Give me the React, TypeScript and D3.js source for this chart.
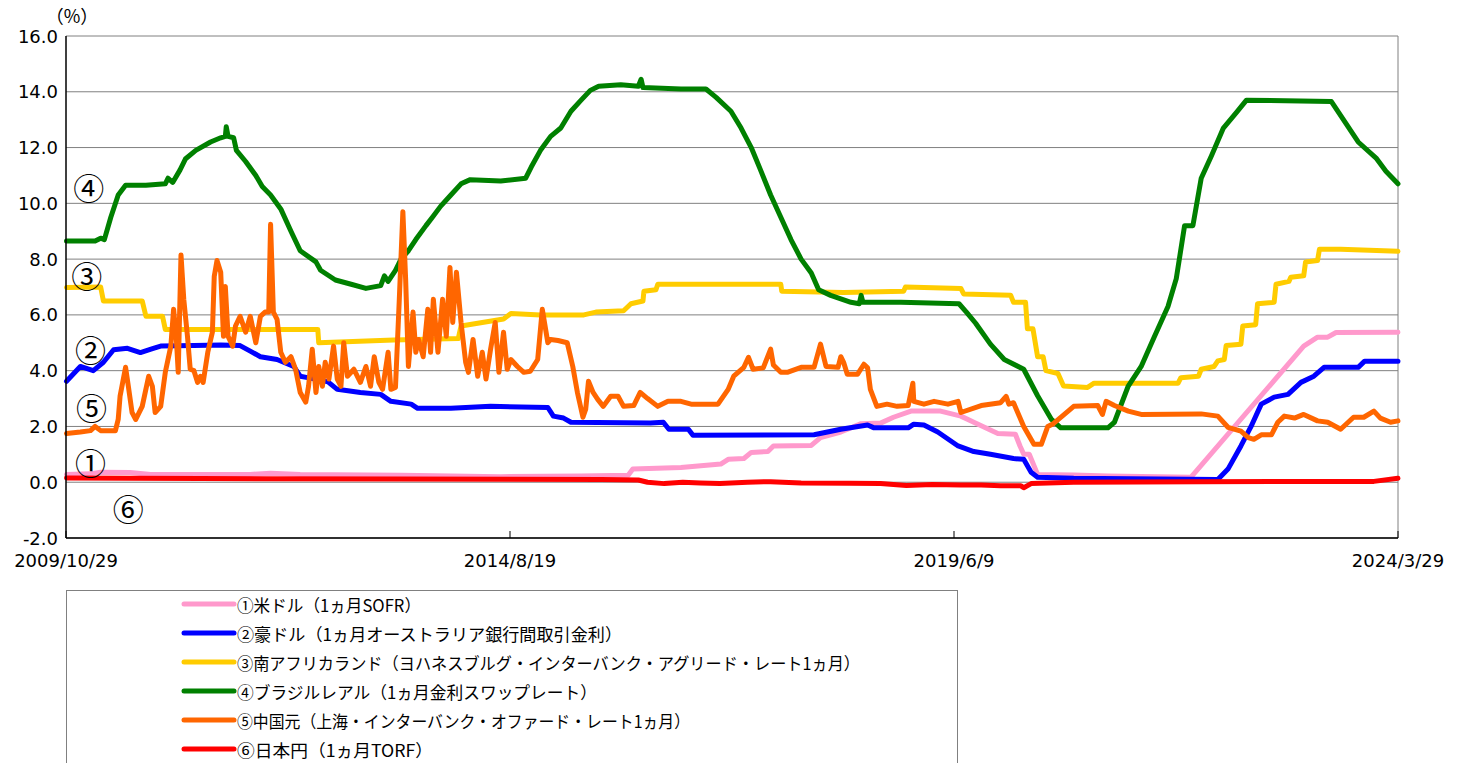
import * as d3 from 'd3';

// [decimal year, %]
const usd: [number, number][] = [
  [2009.83, 0.28], [2010.09, 0.3], [2010.2, 0.36], [2010.52, 0.35], [2010.74, 0.28], [2011.82, 0.28],
  [2012.04, 0.32], [2012.36, 0.28], [2013.45, 0.25], [2014.53, 0.2], [2015.4, 0.22], [2015.91, 0.25],
  [2015.96, 0.47], [2016.48, 0.53], [2016.91, 0.65], [2016.99, 0.82], [2017.16, 0.85], [2017.24, 1.07],
  [2017.42, 1.1], [2017.48, 1.3], [2017.89, 1.32], [2017.99, 1.6], [2018.21, 1.8], [2018.43, 2.1],
  [2018.64, 2.12], [2018.78, 2.33], [2018.97, 2.55], [2019.29, 2.55], [2019.51, 2.37], [2019.65, 2.15],
  [2019.91, 1.75], [2020.1, 1.72], [2020.15, 1.3], [2020.19, 1.0], [2020.25, 1.0], [2020.34, 0.28],
  [2020.73, 0.26], [2021.1, 0.22], [2022.0, 0.18], [2023.22, 4.88], [2023.37, 5.2], [2023.48, 5.2],
  [2023.57, 5.37], [2024.24, 5.38],
];

const aud: [number, number][] = [
  [2009.83, 3.62], [2009.98, 4.15], [2010.12, 4.0], [2010.23, 4.3], [2010.34, 4.75], [2010.49, 4.8],
  [2010.63, 4.65], [2010.77, 4.8], [2010.85, 4.88], [2011.21, 4.9], [2011.5, 4.92], [2011.71, 4.9],
  [2011.82, 4.7], [2011.93, 4.5], [2012.11, 4.4], [2012.29, 4.15], [2012.36, 3.8], [2012.44, 3.75],
  [2012.66, 3.6], [2012.76, 3.33], [2013.01, 3.22], [2013.23, 3.15], [2013.34, 2.9], [2013.56, 2.8],
  [2013.63, 2.65], [2013.99, 2.65], [2014.42, 2.72], [2015.04, 2.68], [2015.1, 2.37], [2015.21, 2.3],
  [2015.29, 2.15], [2016.15, 2.12], [2016.29, 2.15], [2016.35, 1.9], [2016.56, 1.9], [2016.61, 1.68],
  [2017.92, 1.7], [2018.21, 1.9], [2018.5, 2.05], [2018.57, 1.95], [2018.94, 1.95], [2019.0, 2.08],
  [2019.11, 2.05], [2019.26, 1.8], [2019.48, 1.3], [2019.65, 1.1], [2019.83, 1.0], [2020.08, 0.85],
  [2020.19, 0.82], [2020.27, 0.36], [2020.34, 0.18], [2020.73, 0.14], [2022.29, 0.1], [2022.4, 0.47],
  [2022.54, 1.3], [2022.65, 2.0], [2022.76, 2.8], [2022.9, 3.05], [2023.05, 3.15], [2023.19, 3.58],
  [2023.33, 3.8], [2023.44, 4.12], [2023.81, 4.12], [2023.88, 4.34], [2024.24, 4.34],
];

const zar: [number, number][] = [
  [2009.83, 6.98], [2010.2, 7.0], [2010.23, 6.5], [2010.65, 6.5], [2010.69, 5.95], [2010.87, 5.95],
  [2010.9, 5.48], [2012.55, 5.48], [2012.56, 5.0], [2013.37, 5.1], [2014.07, 5.15], [2014.1, 5.6],
  [2014.56, 5.85], [2014.64, 6.05], [2014.96, 6.0], [2015.43, 6.0], [2015.56, 6.1], [2015.86, 6.15],
  [2015.94, 6.4], [2016.07, 6.5], [2016.08, 6.85], [2016.21, 6.9], [2016.23, 7.1], [2017.56, 7.1],
  [2017.57, 6.85], [2018.24, 6.8], [2018.89, 6.85], [2018.91, 7.0], [2019.51, 6.95], [2019.54, 6.75],
  [2020.05, 6.7], [2020.08, 6.45], [2020.21, 6.45], [2020.23, 5.5], [2020.29, 5.5], [2020.34, 4.5],
  [2020.4, 4.5], [2020.43, 4.0], [2020.56, 3.9], [2020.62, 3.45], [2020.88, 3.4], [2020.95, 3.55],
  [2021.86, 3.55], [2021.89, 3.75], [2022.08, 3.8], [2022.11, 4.05], [2022.25, 4.15], [2022.29, 4.35],
  [2022.36, 4.4], [2022.38, 4.9], [2022.54, 4.95], [2022.56, 5.6], [2022.7, 5.65], [2022.72, 6.4],
  [2022.9, 6.45], [2022.92, 7.1], [2023.06, 7.2], [2023.08, 7.35], [2023.22, 7.4], [2023.24, 7.9],
  [2023.37, 7.95], [2023.39, 8.35], [2023.62, 8.35], [2024.24, 8.28],
];

const brl: [number, number][] = [
  [2009.83, 8.65], [2010.14, 8.65], [2010.2, 8.75], [2010.24, 8.7], [2010.31, 9.5], [2010.39, 10.3],
  [2010.47, 10.65], [2010.69, 10.65], [2010.9, 10.7], [2010.93, 10.9], [2010.98, 10.75], [2011.06, 11.2],
  [2011.12, 11.6], [2011.23, 11.9], [2011.39, 12.2], [2011.5, 12.35], [2011.55, 12.4], [2011.56, 12.75],
  [2011.58, 12.4], [2011.64, 12.35], [2011.67, 11.9], [2011.77, 11.5], [2011.88, 11.0], [2011.95, 10.6],
  [2012.04, 10.3], [2012.15, 9.8], [2012.26, 9.0], [2012.36, 8.3], [2012.53, 7.9], [2012.58, 7.6],
  [2012.74, 7.25], [2012.91, 7.1], [2013.07, 6.95], [2013.23, 7.05], [2013.27, 7.4], [2013.31, 7.2],
  [2013.39, 7.6], [2013.45, 8.0], [2013.53, 8.3], [2013.61, 8.7], [2013.72, 9.2], [2013.79, 9.5],
  [2013.88, 9.9], [2013.99, 10.3], [2014.1, 10.7], [2014.2, 10.85], [2014.53, 10.8], [2014.8, 10.9],
  [2014.86, 11.3], [2014.96, 11.9], [2015.07, 12.4], [2015.18, 12.7], [2015.29, 13.3], [2015.4, 13.7],
  [2015.5, 14.05], [2015.59, 14.2], [2015.83, 14.25], [2016.02, 14.2], [2016.05, 14.45], [2016.07, 14.15],
  [2016.48, 14.1], [2016.75, 14.1], [2016.86, 13.8], [2017.02, 13.3], [2017.13, 12.7], [2017.24, 12.0],
  [2017.34, 11.2], [2017.45, 10.3], [2017.56, 9.5], [2017.67, 8.7], [2017.78, 8.0], [2017.89, 7.5],
  [2017.97, 6.9], [2018.1, 6.7], [2018.32, 6.45], [2018.41, 6.4], [2018.43, 6.7], [2018.45, 6.45],
  [2018.86, 6.45], [2019.49, 6.4], [2019.57, 6.1], [2019.67, 5.7], [2019.83, 4.95], [2019.98, 4.4],
  [2020.19, 4.05], [2020.34, 3.1], [2020.49, 2.25], [2020.59, 1.95], [2021.1, 1.95], [2021.17, 2.15],
  [2021.32, 3.45], [2021.46, 4.15], [2021.6, 5.2], [2021.75, 6.3], [2021.84, 7.3], [2021.93, 9.2],
  [2022.02, 9.2], [2022.11, 10.9], [2022.22, 11.7], [2022.35, 12.7], [2022.49, 13.25], [2022.6, 13.7],
  [2023.52, 13.65], [2023.63, 13.1], [2023.81, 12.2], [2024.01, 11.6], [2024.11, 11.15], [2024.24, 10.7],
];

const cny: [number, number][] = [
  [2009.83, 1.75], [2009.98, 1.8], [2010.09, 1.85], [2010.14, 2.0], [2010.2, 1.85], [2010.36, 1.85],
  [2010.39, 2.25], [2010.41, 3.08], [2010.47, 4.12], [2010.5, 3.44], [2010.54, 2.5], [2010.58, 2.25],
  [2010.65, 2.72], [2010.72, 3.8], [2010.76, 3.44], [2010.79, 2.5], [2010.85, 2.72], [2010.9, 3.94],
  [2010.96, 4.88], [2010.99, 6.2], [2011.02, 5.12], [2011.04, 3.94], [2011.07, 8.15], [2011.1, 6.56],
  [2011.14, 5.23], [2011.17, 4.05], [2011.21, 4.0], [2011.25, 3.58], [2011.28, 3.8], [2011.31, 3.58],
  [2011.36, 4.66], [2011.41, 5.38], [2011.43, 7.38], [2011.46, 7.95], [2011.5, 7.53], [2011.53, 5.23],
  [2011.55, 7.02], [2011.58, 5.23], [2011.63, 4.88], [2011.66, 5.6], [2011.71, 5.95], [2011.77, 5.38],
  [2011.82, 5.95], [2011.88, 5.0], [2011.93, 5.95], [2011.98, 6.1], [2012.02, 6.1], [2012.04, 9.25],
  [2012.07, 6.1], [2012.11, 5.84], [2012.15, 4.66], [2012.2, 4.3], [2012.26, 4.5], [2012.31, 4.05],
  [2012.36, 3.22], [2012.42, 2.87], [2012.45, 3.44], [2012.49, 4.77], [2012.53, 3.22], [2012.56, 4.15],
  [2012.6, 3.44], [2012.63, 4.3], [2012.67, 3.7], [2012.72, 4.88], [2012.76, 3.7], [2012.8, 3.44],
  [2012.83, 5.0], [2012.87, 3.8], [2012.94, 4.05], [2013.01, 3.58], [2013.07, 4.15], [2013.12, 3.44],
  [2013.16, 4.5], [2013.21, 3.58], [2013.25, 3.33], [2013.31, 4.66], [2013.34, 3.33], [2013.39, 3.4],
  [2013.43, 6.45], [2013.47, 9.7], [2013.5, 7.27], [2013.53, 4.15], [2013.58, 6.1], [2013.61, 4.66],
  [2013.64, 5.12], [2013.69, 4.5], [2013.74, 6.2], [2013.77, 4.66], [2013.8, 6.56], [2013.85, 4.66],
  [2013.9, 6.56], [2013.94, 5.23], [2013.98, 7.7], [2014.01, 5.73], [2014.05, 7.53], [2014.1, 5.73],
  [2014.15, 4.3], [2014.18, 3.94], [2014.23, 5.12], [2014.28, 3.8], [2014.33, 4.66], [2014.37, 3.7],
  [2014.42, 4.77], [2014.47, 5.73], [2014.51, 3.94], [2014.56, 5.38], [2014.6, 4.05], [2014.64, 4.4],
  [2014.71, 4.15], [2014.78, 3.94], [2014.85, 3.98], [2014.93, 4.4], [2014.98, 6.2], [2015.04, 5.0],
  [2015.07, 5.12], [2015.15, 5.08], [2015.25, 5.0], [2015.31, 4.15], [2015.36, 3.22], [2015.42, 2.33],
  [2015.45, 2.62], [2015.48, 3.62], [2015.53, 3.22], [2015.58, 2.97], [2015.64, 2.72], [2015.72, 3.08],
  [2015.8, 3.08], [2015.86, 2.72], [2015.97, 2.75], [2016.04, 3.22], [2016.12, 3.0], [2016.23, 2.72],
  [2016.34, 2.9], [2016.48, 2.9], [2016.59, 2.8], [2016.88, 2.8], [2016.99, 3.33], [2017.05, 3.8],
  [2017.16, 4.12], [2017.21, 4.48], [2017.26, 4.05], [2017.37, 4.1], [2017.45, 4.77], [2017.48, 4.2],
  [2017.56, 3.94], [2017.63, 3.94], [2017.78, 4.12], [2017.92, 4.12], [2017.99, 4.95], [2018.05, 4.15],
  [2018.18, 4.12], [2018.21, 4.5], [2018.24, 4.3], [2018.28, 3.87], [2018.39, 3.87], [2018.46, 4.23],
  [2018.5, 4.1], [2018.53, 3.33], [2018.6, 2.72], [2018.71, 2.8], [2018.82, 2.72], [2018.94, 2.75],
  [2018.99, 3.55], [2019.0, 2.9], [2019.11, 2.8], [2019.22, 2.9], [2019.37, 2.8], [2019.48, 2.9],
  [2019.51, 2.5], [2019.73, 2.75], [2019.94, 2.85], [2020.0, 3.08], [2020.03, 2.8], [2020.08, 2.85],
  [2020.19, 2.0], [2020.3, 1.36], [2020.38, 1.36], [2020.45, 2.0], [2020.51, 2.1], [2020.67, 2.55],
  [2020.73, 2.72], [2020.99, 2.75], [2021.04, 2.43], [2021.08, 2.9], [2021.17, 2.75], [2021.32, 2.55],
  [2021.46, 2.43], [2022.11, 2.45], [2022.29, 2.37], [2022.4, 1.97], [2022.54, 1.83], [2022.62, 1.6],
  [2022.68, 1.54], [2022.76, 1.7], [2022.87, 1.7], [2022.94, 2.15], [2023.01, 2.37], [2023.12, 2.3],
  [2023.22, 2.43], [2023.37, 2.2], [2023.48, 2.15], [2023.62, 1.9], [2023.76, 2.33], [2023.87, 2.33],
  [2023.98, 2.55], [2024.05, 2.3], [2024.16, 2.15], [2024.24, 2.2],
];

const jpy: [number, number][] = [
  [2009.83, 0.15], [2011.28, 0.13], [2013.45, 0.12], [2015.62, 0.1], [2016.02, 0.08], [2016.12, 0.0],
  [2016.3, -0.05], [2016.5, 0.0], [2016.69, -0.03], [2016.9, -0.05], [2017.2, 0.0], [2017.45, 0.02],
  [2017.78, -0.03], [2018.3, -0.04], [2018.64, -0.05], [2018.92, -0.12], [2019.2, -0.08], [2019.51, -0.1],
  [2019.73, -0.1], [2019.94, -0.13], [2020.16, -0.13], [2020.19, -0.2], [2020.27, -0.05], [2020.73, 0.0],
  [2022.11, 0.02], [2023.19, 0.03], [2023.98, 0.03], [2024.24, 0.14],
];

const seriesNames = [
  '①米ドル（1ヵ月SOFR）',
  '②豪ドル（1ヵ月オーストラリア銀行間取引金利）',
  '③南アフリカランド（ヨハネスブルグ・インターバンク・アグリード・レート1ヵ月）',
  '④ブラジルレアル（1ヵ月金利スワップレート）',
  '⑤中国元（上海・インターバンク・オファード・レート1ヵ月）',
  '⑥日本円（1ヵ月TORF）',
];
const seriesData = [usd, aud, zar, brl, cny, jpy];
const seriesColors = ['#FF99CC', '#0000FF', '#FFCC00', '#008000', '#FF6600', '#FF0000'];
// legend text widths as drawn in the source
const legendWidths = [184, 385, 623, 360, 453, 196];

const yTicks = [-2, 0, 2, 4, 6, 8, 10, 12, 14, 16];
const xTickDates = ['2009/10/29', '2014/8/19', '2019/6/9', '2024/3/29'];

// in-plot markers: [label, decimal year, %]
const markers: [string, number, number][] = [
  ['①', 2010.09, 0.75],
  ['②', 2010.09, 4.8],
  ['③', 2010.05, 7.45],
  ['④', 2010.07, 10.6],
  ['⑤', 2010.1, 2.72],
  ['⑥', 2010.5, -0.9],
];

function yearToDate(y: number) {
  const yr = Math.floor(y);
  const a = new Date(yr, 0, 1).getTime();
  const b = new Date(yr + 1, 0, 1).getTime();
  return new Date(a + (y - yr) * (b - a));
}
function parseTick(s: string) {
  const [y, m, d] = s.split('/').map(Number);
  return new Date(y, m - 1, d);
}

export default function App() {
  const W = 1461, H = 763;
  const m = { left: 66, right: 63, top: 36, bottom: 225 };
  const x = d3.scaleTime()
    .domain([parseTick(xTickDates[0]), parseTick(xTickDates[3])])
    .range([m.left, W - m.right]);
  const y = d3.scaleLinear().domain([-2, 16]).range([H - m.bottom, m.top]);

  const line = d3.line<[number, number]>()
    .x(d => x(yearToDate(d[0])))
    .y(d => y(d[1]));

  const font = "'DejaVu Sans', sans-serif";
  const jp = "'Noto Sans CJK JP', sans-serif";
  const x0 = x.range()[0], x1 = x.range()[1];

  return (
    <div style={{ position: 'absolute', left: 0, top: 0 }}>
      <svg width={W} height={H} style={{ display: 'block', background: '#fff' }}>
        {/* grid */}
        {yTicks.map(t => (
          <line key={t} x1={x0} x2={x1} y1={y(t)} y2={y(t)} stroke="#808080" strokeWidth={1} />
        ))}
        <line x1={x1} x2={x1} y1={y(16)} y2={y(-2)} stroke="#808080" strokeWidth={1} />

        {/* series */}
        {seriesData.map((d, i) => (
          <path key={i} d={line(d) || ''} fill="none" stroke={seriesColors[i]}
            strokeWidth={5} strokeLinejoin="round" strokeLinecap="round" />
        ))}

        {/* axes */}
        <line x1={x0} x2={x0} y1={y(16)} y2={y(-2)} stroke="#000" strokeWidth={1.5} />
        <line x1={x0} x2={x1} y1={y(-2)} y2={y(-2)} stroke="#000" strokeWidth={1.5} />
        {xTickDates.map(s => (
          <g key={s}>
            <line x1={x(parseTick(s))} x2={x(parseTick(s))} y1={y(-2)} y2={y(-2) - 7} stroke="#000" strokeWidth={1} />
            <text x={x(parseTick(s))} y={y(-2) + 29} textAnchor="middle" fontFamily={font} fontSize={18}>{s}</text>
          </g>
        ))}
        {yTicks.map(t => (
          <text key={t} x={58} y={y(t) + 6.5} textAnchor="end" fontFamily={font} fontSize={18}>{t.toFixed(1)}</text>
        ))}
        <text x={72} y={23} textAnchor="middle" fontFamily={jp} fontSize={18}>（%）</text>

        {markers.map(([lab, yr, v]) => (
          <text key={lab} x={x(yearToDate(yr))} y={y(v)} textAnchor="middle" dominantBaseline="central"
            fontFamily={jp} fontSize={31}>{lab}</text>
        ))}

        {/* legend */}
        <rect x={66.5} y={590.5} width={891} height={200} fill="#fff" stroke="#808080" strokeWidth={1} />
        {seriesNames.map((n, i) => (
          <g key={n} transform={`translate(0,${604 + i * 29})`}>
            <line x1={184} x2={234} y1={0} y2={0} stroke={seriesColors[i]} strokeWidth={5} strokeLinecap="round" />
            <text x={237} y={0} dominantBaseline="central" fontFamily={jp} fontSize={17}
              textLength={legendWidths[i]} lengthAdjust="spacingAndGlyphs">{n}</text>
          </g>
        ))}
      </svg>
    </div>
  );
}
